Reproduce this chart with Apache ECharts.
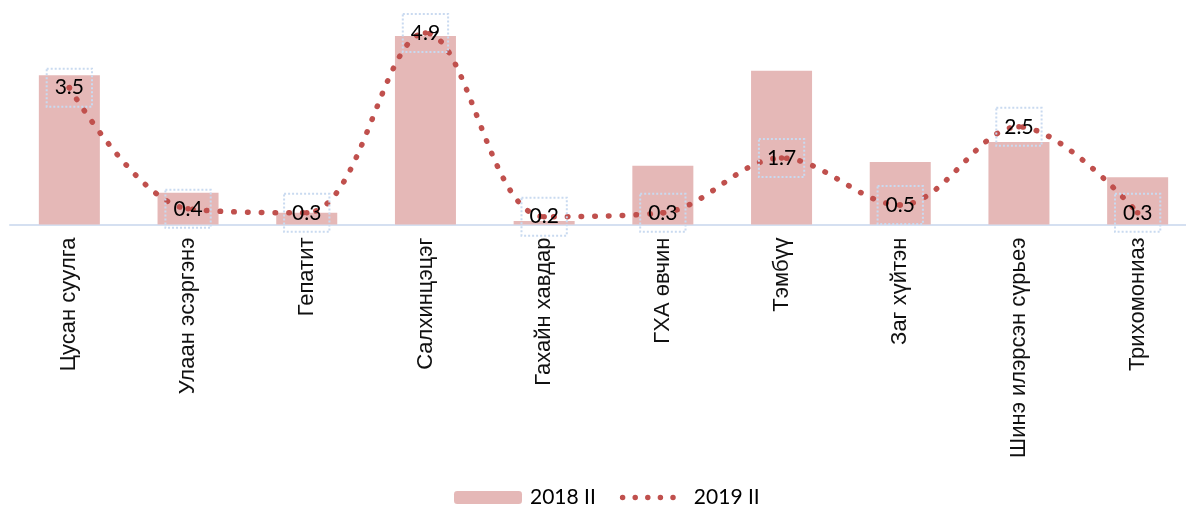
<!DOCTYPE html>
<html lang="mn">
<head>
<meta charset="utf-8">
<title>2018 II / 2019 II</title>
<script src="https://cdn.jsdelivr.net/npm/echarts@6/dist/echarts.min.js"></script>
<style>
  html, body { margin: 0; padding: 0; background: #fff; }
  #container { width: 1186px; height: 508px; }
</style>
</head>
<body>
<div id="container"></div>
<script type="text/javascript">
    // ангилал
    var categories = ['Цусан суулга', 'Улаан эсэргэнэ', 'Гепатит', 'Салхинцэцэг', 'Гахайн хавдар',
        'ГХА өвчин', 'Тэмбүү', 'Заг хүйтэн', 'Шинэ илэрсэн сүрьеэ', 'Трихомониаз'];
    // 2018 II (багана, утга зургаас ойролцоогоор)
    var values2018 = [3.82, 0.81, 0.30, 4.82, 0.09, 1.50, 3.93, 1.60, 2.11, 1.21];
    // 2019 II (цэгэн шугам)
    var values2019 = [3.5, 0.4, 0.3, 4.9, 0.2, 0.3, 1.7, 0.5, 2.5, 0.3];
    var seriesNames = ['2018 II', '2019 II'];

    // legend icon: 5 цэг (68x13 хайрцагт)
    var dotIcon = 'path://M0 0h0.01v0.01h-0.01Z M68 13h-0.01v-0.01h0.01Z';
    for (var k = 0; k < 5; k++) {
        var cx = 4.75 + k * 12.6;
        dotIcon += ' M' + (cx - 2.75) + ' 6.5a2.75 2.75 0 1 0 5.5 0a2.75 2.75 0 1 0 -5.5 0Z';
    }

    var dom = document.getElementById('container');
    var myChart = echarts.init(dom);

    var option = {
        animation: false,
        legend: {
            top: 482,
            left: 449,
            itemWidth: 68,
            itemHeight: 13,
            itemGap: 22,
            textStyle: { fontFamily: 'Lato', fontSize: 21, color: '#000', padding: [0, 0, 0, 3] },
            data: [
                { name: seriesNames[0] },
                { name: seriesNames[1], icon: dotIcon, itemStyle: { color: '#C0504D' } }
            ]
        },
        grid: {
            left: 10,
            width: 1187,
            top: 29,
            bottom: 283.5,
            containLabel: false,
            outerBoundsMode: 'none'
        },
        xAxis: {
            type: 'category',
            data: categories,
            boundaryGap: true,
            axisLine: { show: true, lineStyle: { color: '#D5E0F1', width: 2 } },
            axisTick: { show: false },
            axisLabel: {
                rotate: 90,
                margin: 13,
                interval: 0,
                fontFamily: 'Liberation Sans',
                fontSize: 22,
                color: '#111'
            }
        },
        yAxis: {
            type: 'value',
            min: 0,
            max: 5,
            show: false,
            splitLine: { show: false }
        },
        series: [
            {
                name: seriesNames[0],
                type: 'bar',
                data: values2018,
                barCategoryGap: '48.6%',
                itemStyle: { color: '#E5B8B7' },
                z: 1
            },
            {
                name: seriesNames[1],
                type: 'line',
                data: values2019,
                smooth: 0.35,
                symbol: 'circle',
                symbolSize: 5.5,
                itemStyle: { color: '#C0504D' },
                lineStyle: {
                    color: '#C0504D',
                    width: 5.5,
                    type: [0.5, 13.2],
                    cap: 'round'
                },
                label: {
                    show: true,
                    position: 'inside',
                    fontFamily: 'Lato',
                    fontSize: 21,
                    lineHeight: 24,
                    color: '#000',
                    padding: [7, 8],
                    borderColor: '#C9DAF0',
                    borderWidth: 2,
                    borderType: 'dotted'
                },
                z: 3
            }
        ]
    };

    myChart.setOption(option, true);
</script>
</body>
</html>
